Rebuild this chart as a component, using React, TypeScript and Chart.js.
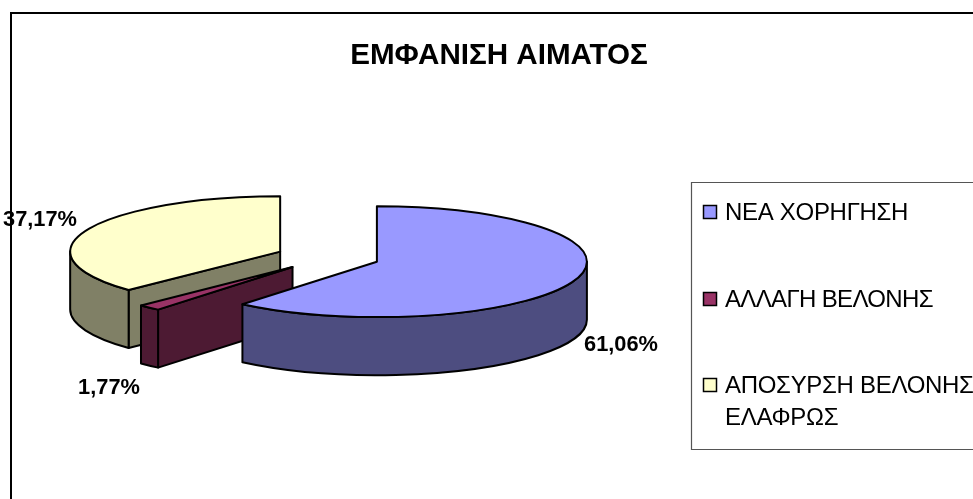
import React, { useEffect, useRef } from "react";
import { Chart, registerables } from "chart.js";

Chart.register(...registerables);

const chartTitle = "ΕΜΦΑΝΙΣΗ ΑΙΜΑΤΟΣ";
const categories = ["ΝΕΑ ΧΟΡΗΓΗΣΗ", "ΑΛΛΑΓΗ ΒΕΛΟΝΗΣ", "ΑΠΟΣΥΡΣΗ ΒΕΛΟΝΗΣ ΕΛΑΦΡΩΣ"];
const legendLines = [["ΝΕΑ ΧΟΡΗΓΗΣΗ"], ["ΑΛΛΑΓΗ ΒΕΛΟΝΗΣ"], ["ΑΠΟΣΥΡΣΗ ΒΕΛΟΝΗΣ", "ΕΛΑΦΡΩΣ"]];
const shares = [61.06, 1.77, 37.17];

const topColors = ["#9999FF", "#993366", "#FFFFCC"];
const sideColors = ["#4D4D80", "#4D1A33", "#808066"];
const labelAnchors = [
  { x: 621, y: 345 },
  { x: 109, y: 388 },
  { x: 40, y: 220 },
];
const legendRows = [212, 299, 385];
const legendSpacing = ["-0.3px", "-0.65px", "-0.3px"];

const RADIUS = 210;
const SQUASH = 0.264;
const DEPTH = 58;
const EXPLODE = 52;
const FONT = '"Liberation Sans", Arial, sans-serif';

const pie3d = {
  id: "pie3d",
  beforeDatasetsDraw(chart: any) {
    const ctx: CanvasRenderingContext2D = chart.ctx;
    const arcs = chart.getDatasetMeta(0).data;
    ctx.save();
    ctx.lineWidth = 2;
    ctx.strokeStyle = "#000";
    ctx.lineJoin = "round";
    for (let i = arcs.length - 1; i >= 0; i--) {
      const p = arcs[i].getProps(["x", "y", "startAngle", "endAngle", "outerRadius"]);
      const a0 = p.startAngle;
      const a1 = p.endAngle;
      const mid = (a0 + a1) / 2;
      const rx = p.outerRadius;
      const ry = rx * SQUASH;
      const cx = p.x + Math.cos(mid) * EXPLODE;
      const cy = p.y + Math.sin(mid) * EXPLODE * SQUASH;
      const rim = (a: number) => [cx + Math.cos(a) * rx, cy + Math.sin(a) * ry];
      const paint = (fill: string) => {
        ctx.fillStyle = fill;
        ctx.fill();
        ctx.stroke();
      };
      const face = (a: number) => {
        const [ex, ey] = rim(a);
        ctx.beginPath();
        ctx.moveTo(cx, cy);
        ctx.lineTo(ex, ey);
        ctx.lineTo(ex, ey + DEPTH);
        ctx.lineTo(cx, cy + DEPTH);
        ctx.closePath();
        paint(sideColors[i]);
      };
      if (Math.sin(a0 - Math.PI / 2) > 0.01) face(a0);
      if (Math.sin(a1 + Math.PI / 2) > 0.01) face(a1);
      const lo = Math.max(a0, 0);
      const hi = Math.min(a1, Math.PI);
      if (hi > lo) {
        ctx.beginPath();
        ctx.ellipse(cx, cy, rx, ry, 0, lo, hi);
        ctx.ellipse(cx, cy + DEPTH, rx, ry, 0, hi, lo, true);
        ctx.closePath();
        paint(sideColors[i]);
      }
      ctx.beginPath();
      ctx.moveTo(cx, cy);
      ctx.ellipse(cx, cy, rx, ry, 0, a0, a1);
      ctx.closePath();
      paint(topColors[i]);
    }
    ctx.restore();
    return false;
  },
  afterDraw(chart: any) {
    const ctx: CanvasRenderingContext2D = chart.ctx;
    const W = chart.width;
    const H = chart.height;
    ctx.save();
    // outer frame
    ctx.strokeStyle = "#000";
    ctx.lineWidth = 2;
    ctx.beginPath();
    ctx.moveTo(11, H);
    ctx.lineTo(11, 13);
    ctx.lineTo(W, 13);
    ctx.stroke();
    // title
    ctx.fillStyle = "#000";
    ctx.textBaseline = "middle";
    ctx.textAlign = "center";
    ctx.font = `bold 29.6px ${FONT}`;
    (ctx as any).letterSpacing = "0px";
    ctx.fillText(chartTitle, 499, 56);
    // data labels
    ctx.font = `bold 21.8px ${FONT}`;
    shares.forEach((v, i) => {
      ctx.fillText(v.toFixed(2).replace(".", ",") + "%", labelAnchors[i].x, labelAnchors[i].y);
    });
    // legend
    ctx.strokeStyle = "#555";
    ctx.lineWidth = 1.2;
    ctx.beginPath();
    ctx.moveTo(W, 182.5);
    ctx.lineTo(691.5, 182.5);
    ctx.lineTo(691.5, 449.5);
    ctx.lineTo(W, 449.5);
    ctx.stroke();
    ctx.textAlign = "left";
    ctx.font = `24px ${FONT}`;
    legendLines.forEach((lines, i) => {
      const y = legendRows[i];
      ctx.fillStyle = topColors[i];
      ctx.strokeStyle = "#000";
      ctx.lineWidth = 1.5;
      ctx.beginPath();
      ctx.rect(703.5, y - 6.5, 13, 13);
      ctx.fill();
      ctx.stroke();
      ctx.fillStyle = "#000";
      (ctx as any).letterSpacing = legendSpacing[i];
      lines.forEach((line, k) => ctx.fillText(line, 725, y + 1.5 + k * 32));
    });
    ctx.restore();
  },
};

export default function App() {
  const ref = useRef<HTMLCanvasElement>(null);
  useEffect(() => {
    if (!ref.current) return;
    const chart = new Chart(ref.current, {
      type: "pie",
      data: {
        labels: categories,
        datasets: [{ data: shares, backgroundColor: topColors, borderColor: "#000", radius: RADIUS }],
      } as any,
      options: {
        responsive: false,
        animation: false,
        radius: RADIUS,
        layout: { padding: { left: 0, right: 317, top: 15, bottom: 0 } },
        plugins: { legend: { display: false }, title: { display: false }, tooltip: { enabled: false } },
      } as any,
      plugins: [pie3d],
    });
    return () => chart.destroy();
  }, []);
  return (
    <canvas
      ref={ref}
      width={973}
      height={499}
      style={{ position: "absolute", left: 0, top: 0, width: 973, height: 499, background: "#fff" }}
    />
  );
}
